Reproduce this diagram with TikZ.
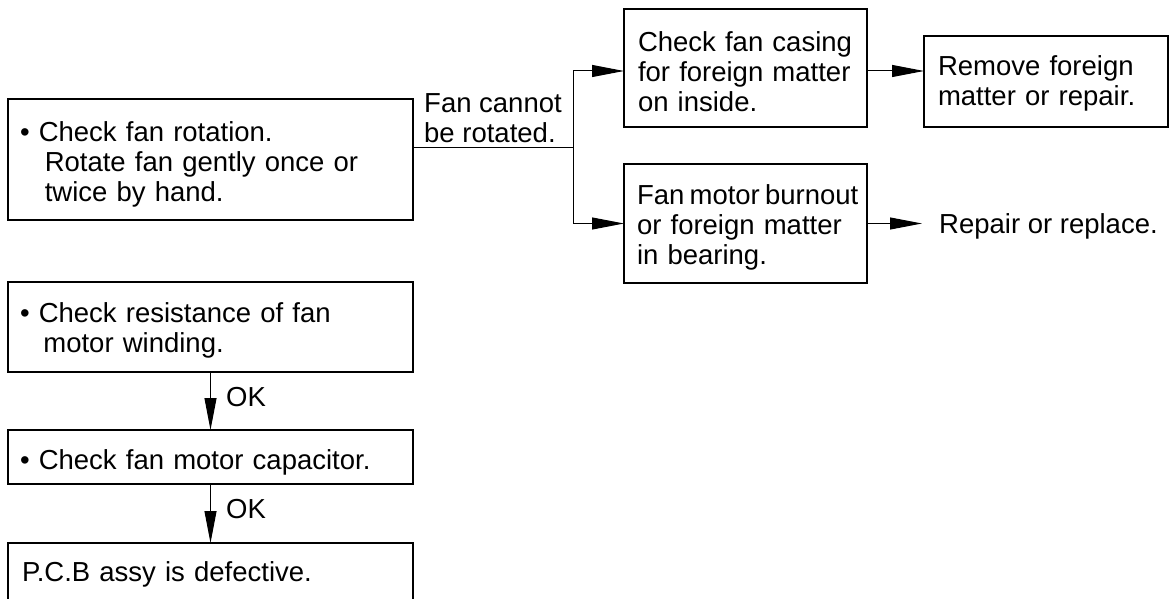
\documentclass[tikz,border=0pt]{standalone}
\usepackage{fontspec}
\setmainfont{Liberation Sans}
\usetikzlibrary{arrows.meta}
\newcommand{\tstr}[1]{\rule{0pt}{#1}}
\begin{document}
\begin{tikzpicture}[x=1pt,y=-1pt,
  txt/.style={font=\fontsize{27.5}{30}\selectfont},
  box/.style={txt, draw, line width=1.6pt, rectangle, anchor=north west, inner ysep=0pt, outer sep=0pt, align=left},
  conn/.style={line width=1pt},
  arr/.style={line width=1pt, -{Triangle[length=32pt,width=12pt]}},
  lbl/.style={txt, inner sep=0pt, align=left}
]
\useasboundingbox (0,0) rectangle (1173,599);
\clip (0,0) rectangle (1173,599);

% left column
\node[box, minimum width=405pt, minimum height=121pt, inner xsep=12pt, text width=381pt] (A) at (8,99)
  {\tstr{29pt}• Check fan rotation.\\\hspace*{0.9em}Rotate fan gently once or\\\hspace*{0.9em}twice by hand.};
\node[box, minimum width=405pt, minimum height=90pt, inner xsep=12pt, text width=381pt] (E) at (8,282)
  {\tstr{26pt}• Check resistance of fan\\\hspace*{0.85em}motor winding.};
\node[box, minimum width=405pt, minimum height=54pt, inner xsep=12pt, text width=381pt] (F) at (8,430)
  {\tstr{30pt}• Check fan motor capacitor.};
\node[box, minimum width=405pt, minimum height=62pt, inner xsep=14pt, text width=377pt] (G) at (8,543)
  {P.C.B assy is defective.};

% right part
\node[box, minimum width=243pt, minimum height=118pt, inner xsep=14pt, text width=215pt] (B) at (624,9)
  {\tstr{28pt}Check fan casing\\for foreign matter\\on inside.};
\node[box, minimum width=244pt, minimum height=91pt, inner xsep=14pt, text width=216pt] (C) at (924,36)
  {\tstr{24pt}Remove foreign\\matter or repair.};
\node[box, minimum width=243pt, minimum height=119pt, inner xsep=13pt, text width=217pt] (D) at (624,164)
  {\tstr{28pt}\mbox{\spaceskip=0.19em Fan motor burnout}\\or foreign matter\\in bearing.};
\node[lbl, anchor=west, inner xsep=17pt] (R) at (922,226) {Repair or replace.};

% labels
\node[lbl, anchor=west] (L) at (424,118) {Fan cannot\\be rotated.};
\node[lbl, anchor=west] (ok1) at (226,397) {OK};
\node[lbl, anchor=west] (ok2) at (226,509) {OK};

% connectors
\coordinate (J) at (573,148);
\draw[conn] (A.east |- J) -- (J);
\draw[arr] (J) |- ([yshift=-3pt]B.west);
\draw[arr] (J) |- (D.west);
\draw[arr] ([yshift=-3pt]B.east) -- ([yshift=-3pt]B.east -| C.west);
\draw[arr] (D.east) -- (D.east -| R.west);
\draw[arr] (E) -- (F);
\draw[arr] (F) -- (G);
\end{tikzpicture}
\end{document}
